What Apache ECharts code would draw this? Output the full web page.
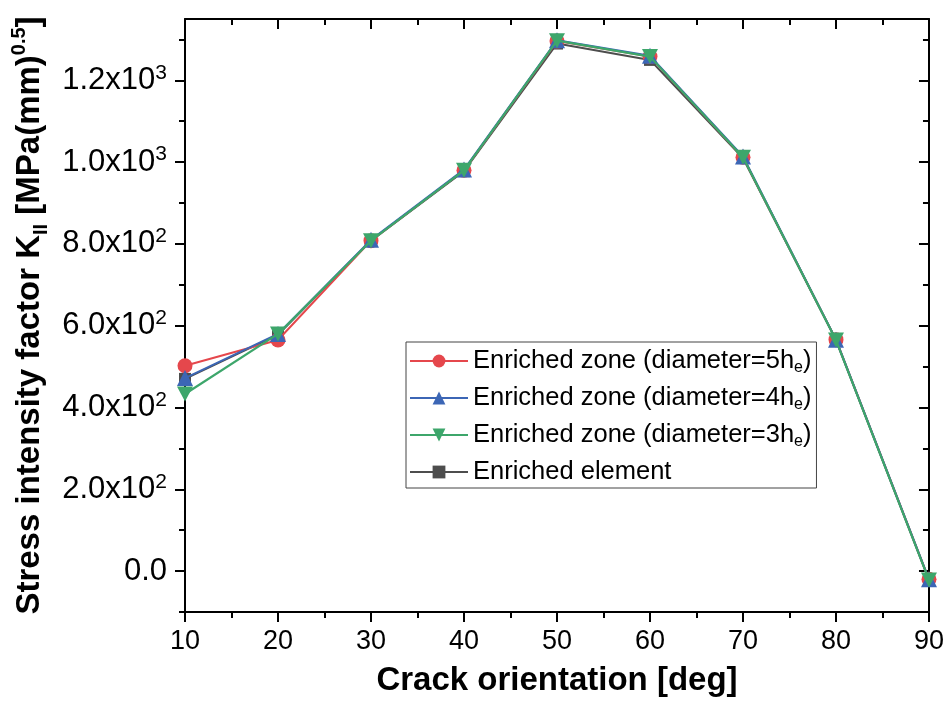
<!DOCTYPE html>
<html>
<head>
<meta charset="utf-8">
<script src="https://cdn.jsdelivr.net/npm/echarts@6/dist/echarts.min.js"></script>
<style>
html,body{margin:0;padding:0;background:#fff;}
#chart{width:947px;height:704px;}
</style>
</head>
<body>
<div id="chart"></div>
<script>
// ---- data ----
const angles = [10, 20, 30, 40, 50, 60, 70, 80, 90];
const zone5he = [502, 565, 808, 980, 1296, 1258, 1012, 566, -20];
const zone4he = [472, 580, 810, 982, 1298, 1260, 1014, 566, -20];
const zone3he = [433, 580, 808, 980, 1297, 1258, 1012, 565, -22];
const element = [470, 578, 808, 978, 1290, 1250, 1010, 565, -22];
const seriesNames = ['Enriched zone (diameter=5he)', 'Enriched zone (diameter=4he)', 'Enriched zone (diameter=3he)', 'Enriched element'];
const yMajorTicks = [0, 200, 400, 600, 800, 1000, 1200];
const yMinorTicks = [-100, 100, 300, 500, 700, 900, 1100, 1300];

const FONT = 'Liberation Sans, Arial, Helvetica, sans-serif';
const colors = ['#E5474C', '#3C66B5', '#3DA66B', '#4D4D4D'];

function pairs(vals) { return angles.map((a, i) => [a, vals[i]]); }

function yLabel(v) {
  if (v === 0) return '{m|0.0}';
  const e = Math.floor(Math.log10(Math.abs(v)) + 1e-9);
  const m = (v / Math.pow(10, e)).toFixed(1);
  return '{m|' + m + 'x10}{s|' + e + '}';
}

const legendRich = {
  t: { fontSize: 25.5, fontFamily: FONT, color: '#000', lineHeight: 30 },
  sub: { fontSize: 16, fontFamily: FONT, color: '#000', verticalAlign: 'bottom', lineHeight: 16 }
};
function legendFmt(name) {
  const m = name.match(/^(.*)he\)$/);
  if (m) return '{t|' + m[1] + 'h}{sub|e}{t|)}';
  return '{t|' + name + '}';
}

const axisLineStyle = { color: '#000', width: 2 };

const chart = echarts.init(document.getElementById('chart'), null, { renderer: 'canvas' });
const option = {
  backgroundColor: '#fff',
  animation: false,
  grid: { left: 185, right: 18, top: 19, bottom: 92, containLabel: false },
  legend: {
    data: [seriesNames[0], seriesNames[1], seriesNames[2], seriesNames[3]],
    orient: 'vertical',
    left: 406, top: 342,
    itemWidth: 58, itemHeight: 16, itemGap: 9,
    padding: [6, 5, 3, 3],
    borderColor: '#444', borderWidth: 1,
    backgroundColor: '#fff',
    formatter: legendFmt,
    textStyle: { rich: legendRich, fontSize: 25.5, fontFamily: FONT, color: '#000' }
  },
  xAxis: [
    {
      type: 'value', min: 10, max: 90, interval: 10, position: 'bottom',
      name: 'Crack orientation [deg]', nameLocation: 'middle', nameGap: 52,
      nameTextStyle: { fontSize: 33, fontWeight: 'bold', fontFamily: FONT, color: '#000' },
      axisLine: { show: true, onZero: false, lineStyle: axisLineStyle },
      axisTick: { show: true, inside: false, length: 10, lineStyle: axisLineStyle },
      minorTick: { show: true, splitNumber: 2, length: 6, lineStyle: axisLineStyle },
      axisLabel: { fontSize: 27, fontFamily: FONT, color: '#000', margin: 16 },
      splitLine: { show: false }, minorSplitLine: { show: false }
    },
    {
      type: 'value', min: 10, max: 90, interval: 10, position: 'top',
      axisLine: { show: true, onZero: false, lineStyle: axisLineStyle },
      axisTick: { show: true, inside: true, length: 10, lineStyle: axisLineStyle },
      minorTick: { show: true, splitNumber: 2, length: 6, lineStyle: axisLineStyle },
      axisLabel: { show: false },
      splitLine: { show: false }, minorSplitLine: { show: false }
    }
  ],
  yAxis: [
    {
      type: 'value', min: -100, max: 1350, position: 'left',
      name: '{a|Stress intensity factor K}{sub|II}{a| [MPa(mm)}{sup|0.5}{a|]}',
      nameLocation: 'middle', nameGap: 130, nameRotate: 90,
      nameTextStyle: {
        fontSize: 33, fontWeight: 'bold', fontFamily: FONT, color: '#000',
        rich: {
          a: { fontSize: 33, fontWeight: 'bold', fontFamily: FONT, color: '#000', lineHeight: 42 },
          sub: { fontSize: 20, fontWeight: 'bold', fontFamily: FONT, color: '#000', verticalAlign: 'bottom', lineHeight: 20 },
          sup: { fontSize: 20, fontWeight: 'bold', fontFamily: FONT, color: '#000', verticalAlign: 'top', lineHeight: 20 }
        }
      },
      axisLine: { show: true, onZero: false, lineStyle: axisLineStyle },
      axisTick: { show: true, inside: false, length: 10, lineStyle: axisLineStyle, customValues: yMajorTicks },
      axisLabel: {
        show: true, customValues: yMajorTicks, margin: 18, formatter: yLabel,
        rich: {
          m: { fontSize: 31, fontFamily: FONT, color: '#000', lineHeight: 36 },
          s: { fontSize: 21, fontFamily: FONT, color: '#000', verticalAlign: 'top', lineHeight: 21 }
        }
      },
      splitLine: { show: false }
    },
    {
      type: 'value', min: -100, max: 1350, position: 'left', offset: 0,
      axisLine: { show: false },
      axisTick: { show: true, inside: false, length: 6, lineStyle: axisLineStyle, customValues: yMinorTicks },
      axisLabel: { show: false },
      splitLine: { show: false }
    },
    {
      type: 'value', min: -100, max: 1350, position: 'right', offset: 0,
      axisLine: { show: true, onZero: false, lineStyle: axisLineStyle },
      axisTick: { show: true, inside: true, length: 10, lineStyle: axisLineStyle, customValues: yMajorTicks },
      axisLabel: { show: false },
      splitLine: { show: false }
    },
    {
      type: 'value', min: -100, max: 1350, position: 'right', offset: 0,
      axisLine: { show: false },
      axisTick: { show: true, inside: true, length: 6, lineStyle: axisLineStyle, customValues: yMinorTicks },
      axisLabel: { show: false },
      splitLine: { show: false }
    }
  ],
  series: [
    {
      name: seriesNames[3], type: 'line', data: pairs(element), xAxisIndex: 0, yAxisIndex: 0,
      symbol: 'rect', symbolSize: 12, showAllSymbol: true,
      lineStyle: { color: colors[3], width: 2 }, itemStyle: { color: colors[3] }, z: 2
    },
    {
      name: seriesNames[0], type: 'line', data: pairs(zone5he), xAxisIndex: 0, yAxisIndex: 0,
      symbol: 'circle', symbolSize: 15, showAllSymbol: true,
      lineStyle: { color: colors[0], width: 2 }, itemStyle: { color: colors[0] }, z: 3
    },
    {
      name: seriesNames[1], type: 'line', data: pairs(zone4he), xAxisIndex: 0, yAxisIndex: 0,
      symbol: 'triangle', symbolSize: 16, showAllSymbol: true,
      lineStyle: { color: colors[1], width: 2 }, itemStyle: { color: colors[1] }, z: 4
    },
    {
      name: seriesNames[2], type: 'line', data: pairs(zone3he), xAxisIndex: 0, yAxisIndex: 0,
      symbol: 'path://M0,0 L10,0 L5,9 Z', symbolSize: [16, 15], showAllSymbol: true,
      lineStyle: { color: colors[2], width: 2.2 }, itemStyle: { color: colors[2] }, z: 5
    }
  ]
};
chart.setOption(option);
</script>
</body>
</html>
